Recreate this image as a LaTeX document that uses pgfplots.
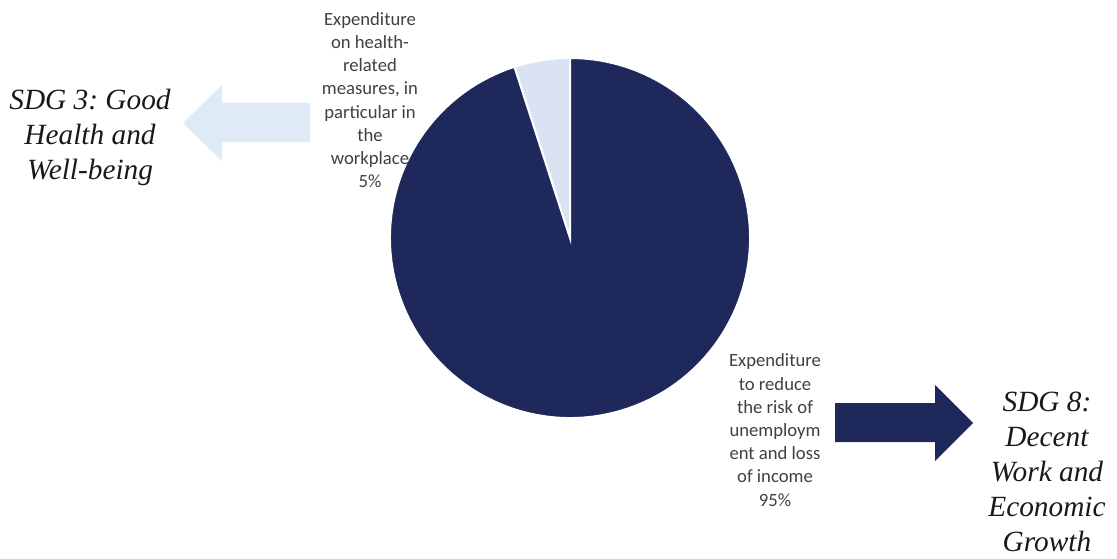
\documentclass[border=0pt]{standalone}
\usepackage{pgfplots}
\pgfplotsset{compat=1.18}
\usepackage{pgfplotstable}
\usepackage{fontspec}
\setmainfont{Carlito}
\newfontfamily\tnr{Liberation Serif}
\definecolor{navy}{RGB}{31,40,91}
\definecolor{lightslice}{RGB}{218,227,243}
\definecolor{lightarrow}{RGB}{222,235,247}
\definecolor{labelgray}{RGB}{64,64,64}
\pgfplotstableread{
label value
health 5
unemp 95
}\piedata
\frenchspacing
\begin{document}
\begin{tikzpicture}
\pgfplotstablegetelem{0}{value}\of\piedata \let\vA\pgfplotsretval
\pgfplotstablegetelem{1}{value}\of\piedata \let\vB\pgfplotsretval
\pgfmathsetmacro\aA{90+360*\vA/(\vA+\vB)}
\begin{axis}[width=837.75pt,height=418.5pt,scale only axis,
  xmin=0,xmax=1117,ymin=0,ymax=558,axis lines=none,ticks=none,clip=false]
% pie slices
\fill[lightslice,draw=white,line width=1.5pt] (axis cs:570,320) -- ++(90:135pt)
  arc[start angle=90,end angle=\aA,radius=135pt] -- cycle;
\fill[navy,draw=white,line width=1.5pt] (axis cs:570,320) -- ++(\aA:135pt)
  arc[start angle=\aA,end angle=450,radius=135pt] -- cycle;
% arrows
\addplot[fill=lightarrow,draw=none] coordinates {(310,455) (222,455) (222,473) (183,435) (222,397) (222,416) (310,416) (310,455)};
\addplot[fill=navy,draw=none] coordinates {(835,155) (935,155) (935,173) (973,135) (935,97) (935,116) (835,116) (835,155)};
% labels
\node[font=\fontsize{14}{17.4}\selectfont,align=center,text=labelgray] at (axis cs:370,458)
  {Expenditure\\on health-\\related\\measures, in\\particular in\\the\\workplace\\5\%};
\node[font=\fontsize{14}{17.4}\selectfont,align=center,text=labelgray] at (axis cs:775,128)
  {Expenditure\\to reduce\\the risk of\\unemploym\\ent and loss\\of income\\95\%};
\node[font=\tnr\itshape\fontsize{22}{26.25}\selectfont,align=center,text=black!90] at (axis cs:90,421)
  {SDG 3: Good\\Health and\\Well-being};
\node[font=\tnr\itshape\fontsize{22}{26.25}\selectfont,align=center,text=black!90] at (axis cs:1047,86)
  {SDG 8:\\Decent\\Work and\\Economic\\Growth};
\end{axis}
\pgfresetboundingbox
\useasboundingbox (current axis.south west) rectangle (current axis.north east);
\end{tikzpicture}
\end{document}
